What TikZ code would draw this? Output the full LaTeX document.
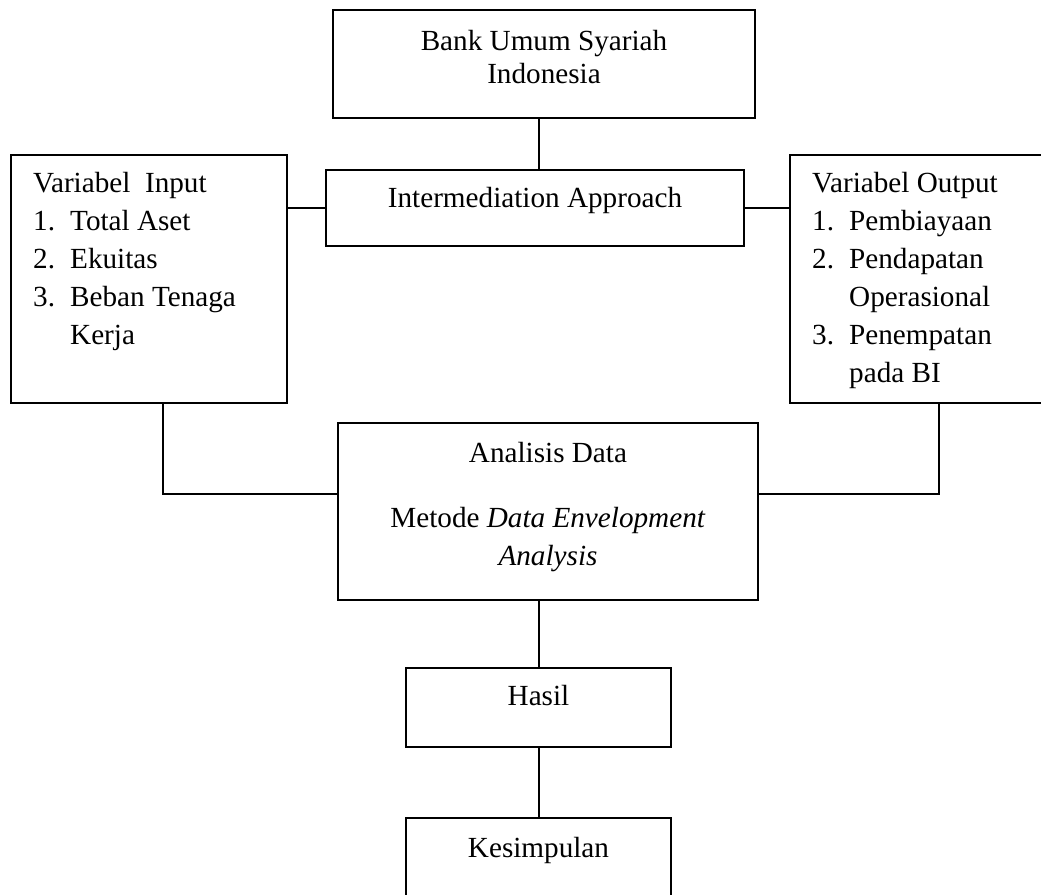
\documentclass[tikz,border=0pt]{standalone}
\usepackage{fontspec}
\setmainfont{Liberation Serif}
\newcommand{\itm}[1]{\makebox[37bp][l]{#1}}
\tikzset{
  box/.style={draw, rectangle, inner sep=0, outer sep=0, line width=1.8bp},
  txt/.style={inner sep=0, font=\fontsize{29.3}{38.1}\selectfont},
  link/.style={line width=1.8bp}
}
\begin{document}
\begin{tikzpicture}[x=1bp, y=-1bp]
    \useasboundingbox (0,0) rectangle (1041,895);
    \clip (0,0) rectangle (1041,895);

    \node[box, minimum width=422bp, minimum height=108bp] (bank) at (544,64) {};
    \node[box, minimum width=418bp, minimum height=76bp] (inter) at (535,208) {};
    \node[box, minimum width=276bp, minimum height=248bp] (input) at (149,279) {};
    \node[box, minimum width=270bp, minimum height=248bp] (output) at (925,279) {};
    \node[box, minimum width=420bp, minimum height=177bp] (analisis) at (548,511.5) {};
    \node[box, minimum width=265bp, minimum height=79bp] (hasil) at (538.5,707.5) {};
    \node[box, minimum width=265bp, minimum height=102bp] (kesimpulan) at (538.5,869) {};

    \node[txt, anchor=north, align=center] (bankT) at (544,30) {Bank Umum Syariah\\[-5bp]Indonesia};
    \node[txt, anchor=base] (interT) at (535,207) {Intermediation Approach};
    \node[txt, anchor=north west, align=left] (inputT) at (33,172)
        {Variabel\ \ Input\\\itm{1.}Total Aset\\\itm{2.}Ekuitas\\\itm{3.}Beban Tenaga\\\hspace*{37bp}Kerja};
    \node[txt, anchor=north west, align=left] (outputT) at (812,172)
        {Variabel Output\\\itm{1.}Pembiayaan\\\itm{2.}Pendapatan\\\hspace*{37bp}Operasional\\\itm{3.}Penempatan\\\hspace*{37bp}pada BI};
    \node[txt, anchor=north, align=center] (analisisT) at (548,442)
        {Analisis Data\\[27bp]Metode \textit{Data Envelopment}\\\textit{Analysis}};
    \node[txt, anchor=base] (hasilT) at (538.5,705) {Hasil};
    \node[txt, anchor=base] (kesimpulanT) at (538.5,857) {Kesimpulan};

    \coordinate (spine) at (539,0);
    \coordinate (inDrop) at (163,494);
    \coordinate (outDrop) at (939,494);

    \draw[link] (spine |- bank.south) -- (spine |- inter.north);
    \draw[link] (inter.west) -- (inter.west -| input.east);
    \draw[link] (inter.east) -- (inter.east -| output.west);
    \draw[link] (inDrop |- input.south) -- (inDrop) -- (inDrop -| analisis.west);
    \draw[link] (outDrop |- output.south) -- (outDrop) -- (outDrop -| analisis.east);
    \draw[link] (spine |- analisis.south) -- (spine |- hasil.north);
    \draw[link] (spine |- hasil.south) -- (spine |- kesimpulan.north);
\end{tikzpicture}
\end{document}
